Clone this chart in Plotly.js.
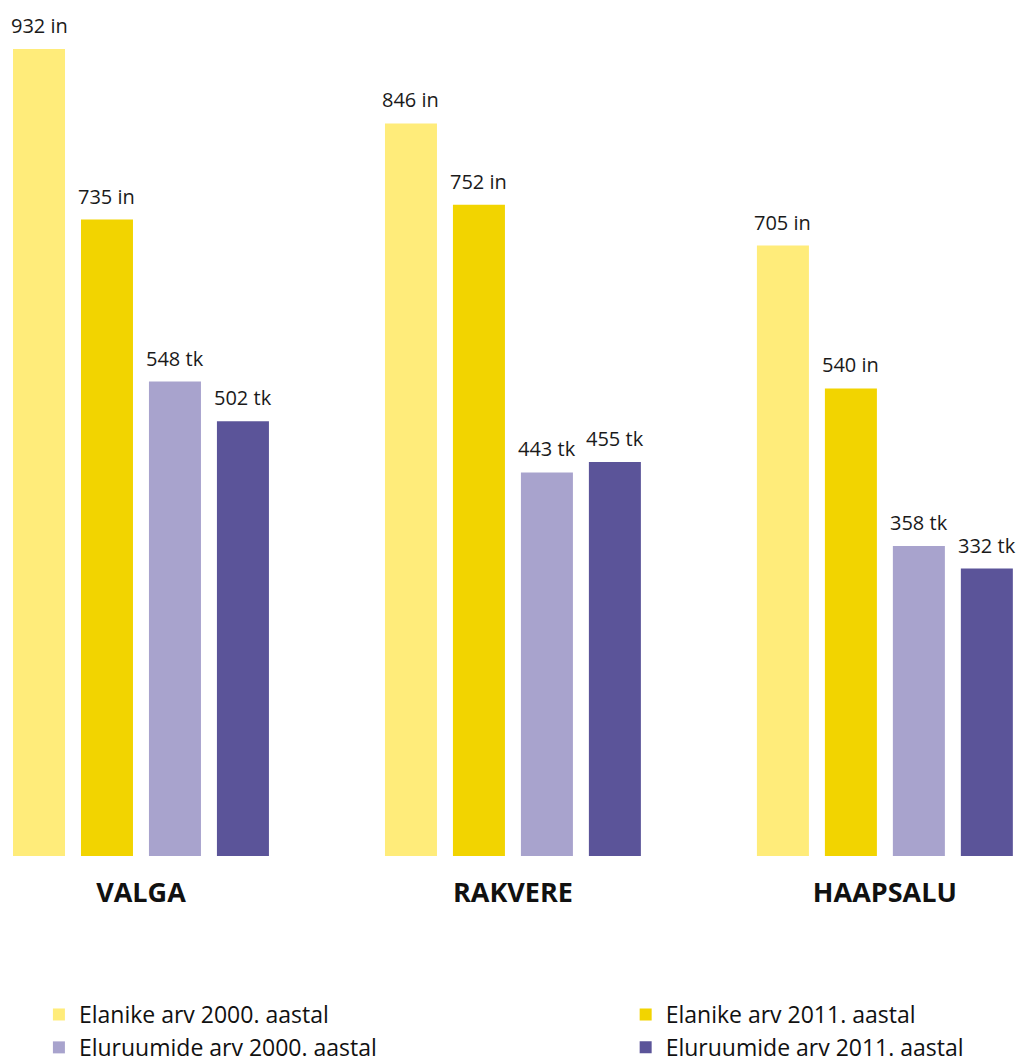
<!DOCTYPE html>
<html>
<head>
<meta charset="utf-8">
<script src="https://cdn.plot.ly/plotly-3.0.1.min.js"></script>
<style>html,body{margin:0;padding:0;background:#fff;}#chart{width:1024px;height:1059px;}</style>
</head>
<body>
<div id="chart"></div>
<script>
const cities = ["VALGA", "RAKVERE", "HAAPSALU"];
const seriesNames = ["Elanike arv 2000. aastal", "Elanike arv 2011. aastal", "Eluruumide arv 2000. aastal", "Eluruumide arv 2011. aastal"];
const elanikud2000 = [932, 846, 705];
const elanikud2011 = [735, 752, 540];
const eluruumid2000 = [548, 443, 358];
const eluruumid2011 = [502, 455, 332];
const units = ["in", "in", "tk", "tk"];
const colors = ["#FFEC7A", "#F2D400", "#A8A3CD", "#5B5499"];
const legendColumn = ["legend", "legend2", "legend", "legend2"];

const allValues = [elanikud2000, elanikud2011, eluruumid2000, eluruumid2011];
const xpos = [0, 1, 2];
const BARGAP = 0.269;

const traces = allValues.map((vals, i) => ({
  type: "bar",
  name: seriesNames[i],
  x: xpos,
  y: vals,
  legend: legendColumn[i],
  marker: {color: colors[i]},
  hoverinfo: "skip",
  textposition: "none"
}));

const nS = allValues.length;
const groupWidth = 1 - BARGAP;
const annotations = [];
allValues.forEach((vals, i) => {
  vals.forEach((v, j) => {
    const off = (i - (nS - 1) / 2) * (groupWidth / nS);
    annotations.push({
      x: xpos[j] + off, y: v, xref: "x", yref: "y",
      text: v + " " + units[i], showarrow: false,
      yanchor: "bottom", yshift: 8,
      font: {family: "Open Sans, sans-serif", size: 20, color: "#1a1a1a"}
    });
  });
});

const legendFont = {family: "Open Sans, sans-serif", size: 23, color: "#111"};

const layout = {
  width: 1024, height: 1059,
  margin: {l: 0, r: 0, t: 0, b: 0, autoexpand: false},
  paper_bgcolor: "#fff", plot_bgcolor: "#fff",
  barmode: "group",
  bargap: BARGAP,
  bargroupgap: 0.235,
  xaxis: {
    range: [-0.379, 2.374],
    tickvals: xpos, ticktext: cities,
    showgrid: false, zeroline: false, showline: false, ticks: "",
    tickfont: {family: "Open Sans, sans-serif", size: 27, color: "#111", weight: "bold"},
    ticklabelstandoff: 18
  },
  yaxis: {
    domain: [203 / 1059, 1],
    range: [0, 988.6], visible: false, showgrid: false, zeroline: false
  },
  showlegend: true,
  legend: {
    orientation: "v", x: 0.038, xanchor: "left", y: 0.0623, yanchor: "top",
    itemwidth: 30, tracegroupgap: 0,
    font: legendFont,
    itemclick: false, itemdoubleclick: false, traceorder: "normal"
  },
  legend2: {
    orientation: "v", x: 0.611, xanchor: "left", y: 0.0623, yanchor: "top",
    itemwidth: 30, tracegroupgap: 0,
    font: legendFont,
    itemclick: false, itemdoubleclick: false, traceorder: "normal"
  },
  annotations: annotations
};

Plotly.newPlot("chart", traces, layout, {displayModeBar: false, staticPlot: true});
</script>
</body>
</html>
